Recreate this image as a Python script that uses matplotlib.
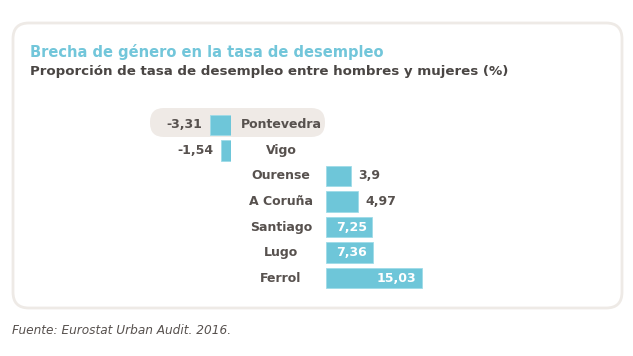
import numpy as np
import matplotlib.pyplot as plt
from matplotlib.patches import FancyBboxPatch

# data
cities = ['Pontevedra', 'Vigo', 'Ourense', 'A Coruña', 'Santiago', 'Lugo', 'Ferrol']
values = [-3.31, -1.54, 3.9, 4.97, 7.25, 7.36, 15.03]
labels = ['-3,31', '-1,54', '3,9', '4,97', '7,25', '7,36', '15,03']
inside = [False, False, False, False, True, True, True]

W, H = 633, 356
bar_col = '#6ec6d9'
txt_col = '#57514e'

fig = plt.figure(figsize=(W / 100, H / 100), dpi=100)

def fx(px):
    return px / W

def fy(py):
    return 1 - py / H

# outer rounded box
box = FancyBboxPatch((fx(13), fy(308)), fx(609), (308 - 23) / H,
                     boxstyle='round,pad=0,rounding_size=0.025',
                     transform=fig.transFigure, fc='white', ec='#eeeae6', lw=2,
                     mutation_aspect=W / H, zorder=-2)
fig.patches.append(box)

# highlight pill behind Pontevedra
pill = FancyBboxPatch((fx(150), fy(137)), fx(175), 29 / H,
                      boxstyle='round,pad=0,rounding_size=0.022',
                      transform=fig.transFigure, fc='#efeae6', ec='none',
                      mutation_aspect=W / H, zorder=-1)
fig.patches.append(pill)

fig.text(fx(30), fy(52), 'Brecha de género en la tasa de desempleo',
         color='#72c6da', fontsize=10.5, fontweight='bold', va='center')
fig.text(fx(30), fy(72), 'Proporción de tasa de desempleo entre hombres y mujeres (%)',
         color='#4a4644', fontsize=9.6, fontweight='bold', va='center')
fig.text(fx(12), fy(331), 'Fuente: Eurostat Urban Audit. 2016.',
         color='#57514e', fontsize=8.75, style='italic', va='center')

# axes geometry (pixels)
scale = 6.4           # px per unit
top, bottom = 112, 291
n = len(cities)

def make_ax(x0, x1, xlim):
    ax = fig.add_axes([fx(x0), fy(bottom), (x1 - x0) / W, (bottom - top) / H])
    ax.set_xlim(*xlim)
    ax.set_ylim(n - 0.5, -0.5)
    ax.axis('off')
    ax.patch.set_alpha(0)
    return ax

zero_l, zero_r = 231, 326
ax_l = make_ax(150, zero_l, (-(zero_l - 150) / scale, 0))
ax_r = make_ax(zero_r, 610, (0, (610 - zero_r) / scale))

for i, (c, v, lab, ins) in enumerate(zip(cities, values, labels, inside)):
    if v < 0:
        ax_l.barh(i, v, height=0.8, color=bar_col, edgecolor='#9fdbe8', lw=0.6)
        ax_l.text(v - 1.2, i, lab, ha='right', va='center', color=txt_col,
                  fontsize=9, fontweight='bold')
    else:
        ax_r.barh(i, v, height=0.8, color=bar_col, edgecolor='#9fdbe8', lw=0.6)
        if ins:
            ax_r.text(v - 0.9, i, lab, ha='right', va='center', color='white',
                      fontsize=9, fontweight='bold')
        else:
            ax_r.text(v + 1.2, i, lab, ha='left', va='center', color=txt_col,
                      fontsize=9, fontweight='bold')
    # category name in the gap between the two bar groups
    ax_r.annotate(c, xy=(0, i), xycoords='data', xytext=(-(zero_r - 281), 0),
                  textcoords='offset pixels', ha='center', va='center',
                  color=txt_col, fontsize=9, fontweight='bold')

fig.savefig('out.png', dpi=100)
